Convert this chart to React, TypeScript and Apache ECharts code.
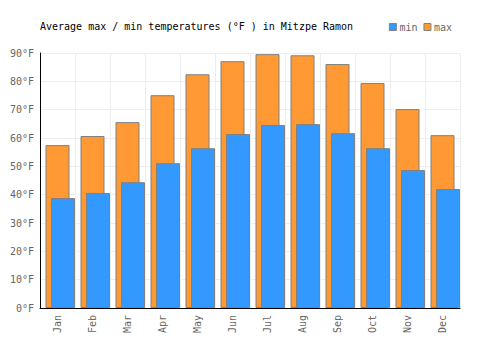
import React, { useEffect, useRef } from "react";
import * as echarts from "echarts";

const months = ["Jan", "Feb", "Mar", "Apr", "May", "Jun", "Jul", "Aug", "Sep", "Oct", "Nov", "Dec"];
const maxTemps = [57.5, 60.7, 65.6, 75.1, 82.5, 87.1, 89.6, 89.2, 86.1, 79.4, 70.2, 61.0];
const minTemps = [38.8, 40.6, 44.4, 51.1, 56.4, 61.4, 64.6, 64.9, 61.7, 56.4, 48.7, 42.0];
const spacer = months.map(() => "-");

const FONT = "'DejaVu Sans Mono', 'Liberation Mono', monospace";

export default function App() {
  const ref = useRef<HTMLDivElement>(null);
  useEffect(() => {
    if (!ref.current) return;
    const chart = echarts.init(ref.current, undefined, { renderer: "svg" });
    chart.setOption({
      animation: false,
      title: {
        text: "Average max / min temperatures (°F ) in Mitzpe Ramon",
        left: 35,
        top: 16,
        textStyle: { fontFamily: FONT, fontSize: 10, fontWeight: "normal", color: "#000" },
      },
      legend: {
        data: ["min", "max"],
        right: 43,
        top: 17,
        itemWidth: 7,
        itemHeight: 7,
        itemGap: 6,
        icon: "rect",
        itemStyle: { borderColor: "#808080", borderWidth: 1 },
        textStyle: { fontFamily: FONT, fontSize: 10, color: "#666", padding: [0, 0, 0, -2] },
      },
      grid: { left: 40, right: 40, top: 53, bottom: 42 },
      xAxis: {
        type: "category",
        data: months,
        axisLine: { lineStyle: { color: "#000", width: 1 } },
        axisTick: { show: false },
        splitLine: { show: true, lineStyle: { color: "#eeeeee" } },
        axisLabel: { rotate: 90, fontFamily: FONT, fontSize: 10, color: "#666", margin: 7 },
      },
      yAxis: {
        type: "value",
        min: 0,
        max: 90,
        interval: 10,
        axisLine: { show: true, lineStyle: { color: "#000", width: 1 } },
        axisTick: { show: false },
        splitLine: { lineStyle: { color: "#eeeeee" } },
        axisLabel: { formatter: "{value}°F", fontFamily: FONT, fontSize: 10, color: "#666", margin: 6 },
      },
      series: [
        {
          name: "_spacer",
          type: "bar",
          barWidth: 24,
          data: spacer,
          silent: true,
        },
        {
          name: "max",
          type: "bar",
          barWidth: 24,
          data: maxTemps,
          itemStyle: { color: "#ff9933", borderColor: "#808080", borderWidth: 1 },
        },
        {
          name: "min",
          type: "bar",
          barWidth: 24,
          barGap: "-77%",
          data: minTemps,
          itemStyle: { color: "#3399ff", borderColor: "#808080", borderWidth: 1 },
        },
      ],
    });
    return () => chart.dispose();
  }, []);
  return <div ref={ref} style={{ width: 500, height: 350, margin: -8 }} />;
}
